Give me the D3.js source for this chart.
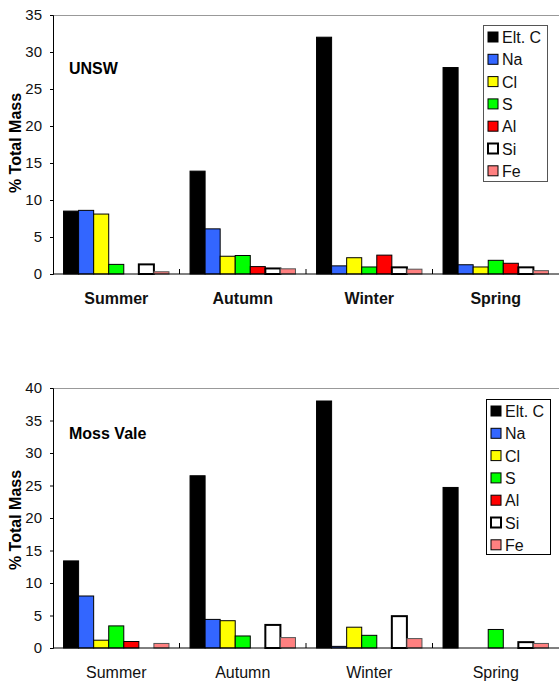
<!DOCTYPE html>
<html>
<head>
<meta charset="utf-8">
<script src="https://cdn.jsdelivr.net/npm/d3@7"></script>
<style>
  body { margin: 0; background: #fff; }
  svg { display: block; font-family: "Liberation Sans", Arial, sans-serif; }
</style>
</head>
<body>
<div id="chart"></div>
<script>
// Data
var seasons = ['Summer', 'Autumn', 'Winter', 'Spring'];
var elements = ['Elt. C', 'Na', 'Cl', 'S', 'Al', 'Si', 'Fe'];

// values per season, in the order of elements
var unswValues = [
    [8.5, 8.6, 8.1, 1.3, 0, 1.3, 0.3],
    [13.9, 6.1, 2.4, 2.5, 1.0, 0.75, 0.7],
    [32.0, 1.1, 2.2, 0.95, 2.55, 0.9, 0.65],
    [27.9, 1.25, 0.95, 1.85, 1.45, 0.9, 0.45]
];
var mossValeValues = [
    [13.4, 8.0, 1.2, 3.4, 1.0, 0, 0.7],
    [26.5, 4.4, 4.2, 1.85, 0, 3.55, 1.6],
    [38.0, 0.25, 3.2, 1.95, 0, 4.9, 1.45],
    [24.7, 0, 0, 2.85, 0, 0.9, 0.7]
];
var unswTicks = [0, 5, 10, 15, 20, 25, 30, 35];
var mossValeTicks = [0, 5, 10, 15, 20, 25, 30, 35, 40];

var fills = ['#000000', '#3366ff', '#ffff00', '#00ff00', '#ff0000', '#ffffff', '#ff8080'];

var svg = d3.select('#chart').append('svg')
    .attr('width', 559)
    .attr('height', 681);

function drawChart(opts) {
    var left = 53, right = 559;
    var top = opts.top, bottom = opts.bottom;
    var ticks = opts.ticks;

    var x = d3.scaleBand().domain(seasons).range([left, right]);
    var xInner = d3.scaleBand().domain(elements).range([0, x.bandwidth()]).paddingOuter(0.7);
    var y = d3.scaleLinear().domain([0, d3.max(ticks)]).range([bottom, top]);

    var g = svg.append('g');

    // top border
    g.append('line')
        .attr('x1', left).attr('x2', right)
        .attr('y1', top + 0.5).attr('y2', top + 0.5)
        .attr('stroke', '#999').attr('stroke-width', 1);

    // y axis
    var yAxis = d3.axisLeft(y).tickValues(ticks).tickSize(3).tickPadding(8);
    var yAxisG = g.append('g')
        .attr('transform', 'translate(' + left + ',0)')
        .call(yAxis);
    yAxisG.select('.domain').attr('stroke', '#000');
    yAxisG.selectAll('text').attr('font-size', 15).attr('fill', '#111')
        .attr('font-family', '"Liberation Sans", Arial, sans-serif');

    // bars
    var groups = g.selectAll('g.season')
        .data(opts.values)
        .enter().append('g')
        .attr('class', 'season')
        .attr('transform', function(d, i) { return 'translate(' + x(seasons[i]) + ',0)'; });

    groups.selectAll('rect')
        .data(function(d) { return d.map(function(v, j) { return {el: elements[j], v: v, j: j}; }); })
        .enter().filter(function(d) { return d.v > 0; })
        .append('rect')
        .attr('x', function(d) { return xInner(d.el); })
        .attr('width', xInner.bandwidth())
        .attr('y', function(d) { return y(d.v); })
        .attr('height', function(d) { return y(0) - y(d.v); })
        .attr('fill', function(d) { return fills[d.j]; })
        .attr('stroke', function(d) { return d.j === 6 ? '#555' : '#000'; })
        .attr('stroke-width', function(d) { return d.j === 5 ? 2 : 1; });

    // x axis line and category boundary ticks
    g.append('line')
        .attr('x1', left).attr('x2', right)
        .attr('y1', bottom).attr('y2', bottom)
        .attr('stroke', '#000');
    g.selectAll('line.cat')
        .data(seasons.slice(1))
        .enter().append('line')
        .attr('class', 'cat')
        .attr('x1', function(d) { return x(d); })
        .attr('x2', function(d) { return x(d); })
        .attr('y1', bottom).attr('y2', bottom - 5)
        .attr('stroke', '#000');

    g.selectAll('text.cat')
        .data(seasons)
        .enter().append('text')
        .attr('class', 'cat')
        .attr('x', function(d) { return x(d) + x.bandwidth() / 2; })
        .attr('y', opts.catY)
        .attr('text-anchor', 'middle')
        .attr('font-size', 16)
        .attr('font-weight', opts.catBold ? 'bold' : 'normal')
        .attr('fill', '#111')
        .text(function(d) { return d; });

    // y title
    g.append('text')
        .attr('transform', 'translate(21,' + opts.titleY + ') rotate(-90)')
        .attr('text-anchor', 'middle')
        .attr('font-size', 16)
        .attr('font-weight', 'bold')
        .text('% Total Mass');

    // site label
    g.append('text')
        .attr('x', 69).attr('y', opts.labelY)
        .attr('font-size', 16)
        .attr('font-weight', 'bold')
        .text(opts.label);

    // legend
    var lg = g.append('g').attr('transform', 'translate(' + opts.legX + ',' + opts.legY + ')');
    lg.append('rect')
        .attr('x', 0.5).attr('y', 0.5)
        .attr('width', opts.legW).attr('height', opts.legH)
        .attr('fill', '#fff')
        .attr('stroke', opts.legStroke);
    var items = lg.selectAll('g.item')
        .data(elements)
        .enter().append('g')
        .attr('class', 'item')
        .attr('transform', function(d, i) { return 'translate(5,' + (12 + i * 22.3) + ')'; });
    items.append('rect')
        .attr('x', 0).attr('y', -5)
        .attr('width', 10).attr('height', 10)
        .attr('fill', function(d, i) { return fills[i]; })
        .attr('stroke', '#000')
        .attr('stroke-width', function(d, i) { return i === 5 ? 2 : 1; });
    items.append('text')
        .attr('x', 14).attr('y', 6)
        .attr('font-size', 16)
        .attr('fill', '#111')
        .text(function(d) { return d; });
}

drawChart({
    values: unswValues, ticks: unswTicks,
    top: 15, bottom: 274,
    catY: 304, catBold: true,
    titleY: 143,
    label: 'UNSW', labelY: 74,
    legX: 483, legY: 25, legW: 64, legH: 156, legStroke: '#555'
});

drawChart({
    values: mossValeValues, ticks: mossValeTicks,
    top: 388, bottom: 648,
    catY: 678, catBold: false,
    titleY: 520,
    label: 'Moss Vale', labelY: 439,
    legX: 486, legY: 399, legW: 64, legH: 155, legStroke: '#000'
});
</script>
</body>
</html>
